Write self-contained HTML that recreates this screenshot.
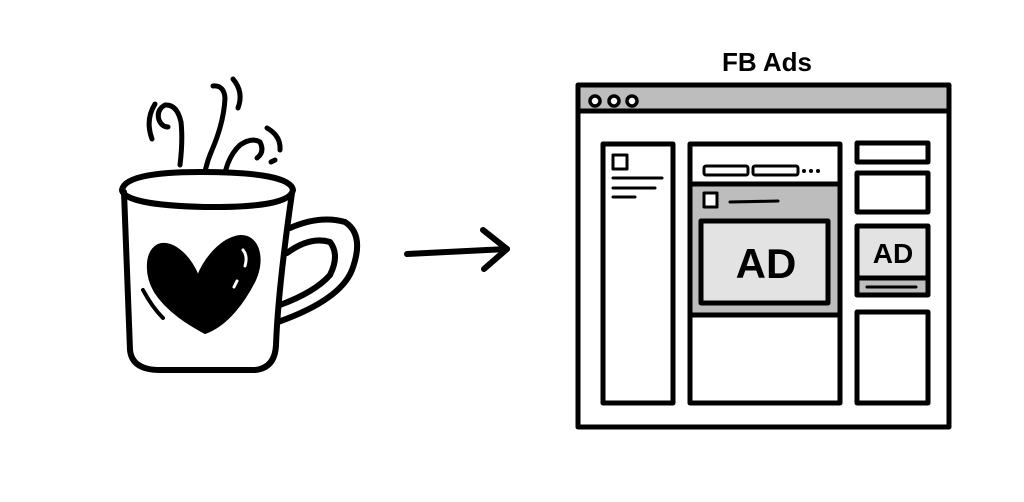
<!DOCTYPE html>
<html><head><meta charset="utf-8"><style>html,body{margin:0;padding:0;background:#fff;}svg{display:block}</style></head>
<body>
<svg width="1024" height="502" viewBox="0 0 1024 502" xmlns="http://www.w3.org/2000/svg" fill="none" stroke="#000" stroke-linecap="round" stroke-linejoin="round">
<!-- steam -->
<g stroke-width="5">
<path d="M155 104 Q145 120 152 139"/>
<path d="M180 165 Q183 140 181 122 Q177 104 165 105 Q156 110 159 120 Q162 127 168 127"/>
<path d="M203 188 Q204 168 212 150 Q224 122 225 98 Q224 85 213 86"/>
<path d="M233 79 Q244 92 238 108"/>
<path d="M223 190 Q224 160 240 145 Q252 137 260 142 Q265 152 257 158"/>
<path d="M267 128 Q281 136 280 150"/>
<path d="M271 162 L275 160"/>
</g>
<!-- mug -->
<g stroke-width="6">
<path d="M122 190 Q125 172 200 172 Q290 172 293 190 Q290 208 205 207 Q124 205 122 190 Z" fill="#fff"/>
<path d="M124 192 Q128 290 130 350 Q132 370 160 370 L255 370 Q275 368 276 345 Q278 290 292 193"/>
<path d="M290 228 Q320 215 345 222 Q365 235 352 270 Q340 300 278 322"/>
<path d="M287 253 Q310 236 330 242 Q340 255 330 275 Q315 292 280 305"/>
</g>
<!-- heart -->
<path d="M198 276 C188 252 170 240 158 245 C145 252 145 275 155 292 C168 312 190 325 205 333 C228 325 245 300 255 280 C265 258 258 235 240 236 C222 238 205 258 198 276 Z" fill="#000" stroke="#000" stroke-width="2"/>
<path d="M243 250 Q248 256 245 266" stroke="#fff" stroke-width="3"/>
<path d="M237 281 L234 287" stroke="#fff" stroke-width="3"/>
<path d="M143 290 Q152 307 163 318" stroke-width="4"/>
<!-- arrow -->
<g stroke-width="6">
<path d="M407 254 L507 249"/>
<path d="M483 230 L507 249 L484 269"/>
</g>
<!-- title -->
<text x="767" y="71" text-anchor="middle" font-family="Liberation Sans, sans-serif" font-weight="bold" font-size="26" fill="#000" stroke="none">FB Ads</text>
<!-- browser -->
<rect x="578" y="85" width="371" height="26" fill="#bdbdbd" stroke="none"/>
<g stroke-width="5">
<rect x="578" y="85" width="371" height="342"/>
<line x1="578" y1="111" x2="949" y2="111"/>
</g>
<g stroke-width="3.5" fill="#fff">
<circle cx="595" cy="101" r="5"/><circle cx="614" cy="101" r="5"/><circle cx="632" cy="101" r="5"/>
</g>
<!-- left col -->
<rect x="603" y="144" width="70" height="259" stroke-width="5"/>
<g stroke-width="3">
<rect x="613" y="155" width="14" height="14"/>
<line x1="613" y1="178" x2="662" y2="178"/>
<line x1="613" y1="188" x2="655" y2="188"/>
<line x1="613" y1="197" x2="635" y2="197"/>
</g>
<!-- middle col -->
<rect x="690" y="184" width="150" height="130" fill="#bdbdbd" stroke="none"/>
<rect x="701" y="221" width="127" height="82" fill="#e3e3e3" stroke="#000" stroke-width="5"/>
<g stroke-width="5">
<rect x="690" y="144" width="150" height="259"/>
<line x1="690" y1="184" x2="840" y2="184"/>
<line x1="690" y1="315" x2="840" y2="315"/>
</g>
<g stroke-width="3">
<rect x="704" y="166" width="44" height="9" rx="2"/>
<rect x="753" y="166" width="45" height="9" rx="2"/>
<rect x="704" y="193" width="13" height="14" fill="#fff"/>
<line x1="730" y1="202" x2="778" y2="201"/>
</g>
<g fill="#000" stroke="none"><circle cx="804" cy="171" r="2"/><circle cx="811" cy="171" r="2"/><circle cx="818" cy="171" r="2"/></g>
<text x="766" y="278" text-anchor="middle" font-family="Liberation Sans, sans-serif" font-weight="bold" font-size="42" fill="#000" stroke="none">AD</text>
<!-- right col -->
<rect x="857" y="278" width="71" height="17" fill="#bdbdbd" stroke="none"/>
<rect x="857" y="226" width="71" height="52" fill="#e3e3e3" stroke="none"/>
<g stroke-width="5">
<rect x="857" y="143" width="71" height="19"/>
<rect x="857" y="173" width="71" height="39"/>
<rect x="857" y="226" width="71" height="69"/>
<line x1="857" y1="278" x2="928" y2="278"/>
<rect x="857" y="312" width="71" height="91"/>
</g>
<line x1="867" y1="287" x2="916" y2="287" stroke-width="3"/>
<text x="893" y="263" text-anchor="middle" font-family="Liberation Sans, sans-serif" font-weight="bold" font-size="28" fill="#000" stroke="none">AD</text>
</svg>
</body></html>
